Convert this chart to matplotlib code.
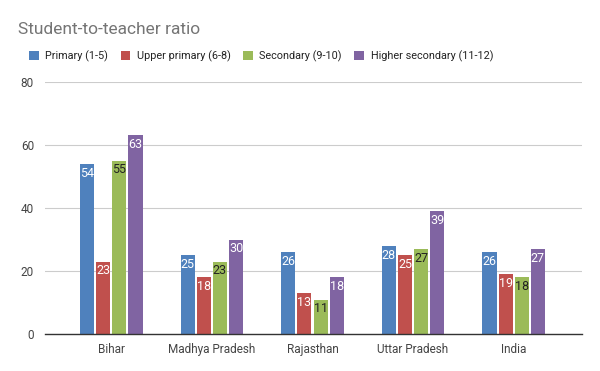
import matplotlib
matplotlib.use("Agg")
import matplotlib.pyplot as plt
import numpy as np

categories = ["Bihar", "Madhya Pradesh", "Rajasthan", "Uttar Pradesh", "India"]
series_names = ["Primary (1-5)", "Upper primary (6-8)", "Secondary (9-10)", "Higher secondary (11-12)"]
primary = [54, 25, 26, 28, 26]
upper_primary = [23, 18, 13, 25, 19]
secondary = [55, 23, 11, 27, 18]
higher_secondary = [63, 30, 18, 39, 27]
colors = ["#4F81BD", "#C0504D", "#9BBB59", "#8064A2"]
label_colors = ["white", "white", "#222222", "white"]
yticks = [0, 20, 40, 60, 80]

plt.rcParams['font.family'] = ['Roboto', 'DejaVu Sans']

fig = plt.figure(figsize=(6, 3.71), dpi=100)
ax = fig.add_axes([0.075, 0.099, 0.895, 0.681])

data = [primary, upper_primary, secondary, higher_secondary]
x = np.arange(len(categories))
width = 0.14
pitch = 0.16
for i, (vals, c, lc) in enumerate(zip(data, colors, label_colors)):
    pos = x + (i - 1.5) * pitch
    bars = ax.bar(pos, vals, width=width, color=c, zorder=3, label=series_names[i])
    for p, v in zip(pos, vals):
        ax.annotate(str(v), (p, v), xytext=(0, -2), textcoords="offset points",
                    ha="center", va="top", fontsize=9, color=lc, zorder=4)

ax.set_ylim(0, 80)
ax.set_xlim(-0.66, 4.68)
ax.set_yticks(yticks)
ax.set_xticks(x)
ax.set_xticklabels(categories)
ax.tick_params(axis="both", length=0, labelsize=8.5, colors="#444444")
ax.tick_params(axis="x", pad=6)
ax.tick_params(axis="y", pad=8)
ax.grid(axis="y", color="#cccccc", linewidth=0.8, zorder=0)
for s in ["top", "right", "left"]:
    ax.spines[s].set_visible(False)
ax.spines["bottom"].set_color("#333333")
ax.spines["bottom"].set_linewidth(1.0)
ax.spines["bottom"].set_zorder(5)

fig.text(0.03, 0.92, "Student-to-teacher ratio", fontsize=12.5, color="#757575", ha="left", va="center")

handles, labels = ax.get_legend_handles_labels()
leg = fig.legend(handles, labels, loc="center left", bbox_to_anchor=(0.032, 0.848), ncol=4,
                 frameon=False, fontsize=7.8, handlelength=0.9, handleheight=0.9,
                 columnspacing=1.15, handletextpad=0.6, labelcolor="#222222")

fig.savefig("out.png", dpi=100)
